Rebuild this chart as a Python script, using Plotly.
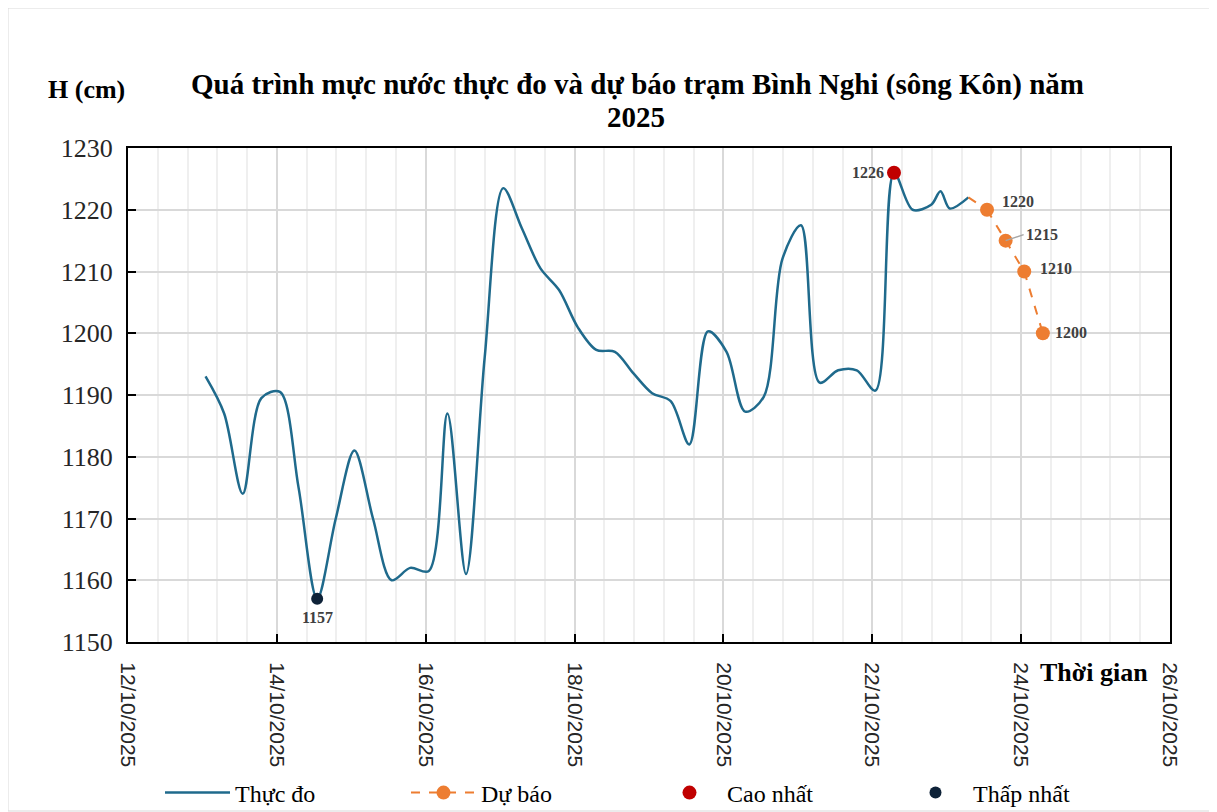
import plotly.graph_objects as go

# ---- data ----
obs_times = [
    "2025-10-13 01:00", "2025-10-13 07:00", "2025-10-13 13:00", "2025-10-13 19:00",
    "2025-10-14 01:00", "2025-10-14 07:00", "2025-10-14 13:00", "2025-10-14 19:00",
    "2025-10-15 01:00", "2025-10-15 07:00", "2025-10-15 13:00", "2025-10-15 19:00",
    "2025-10-16 01:00", "2025-10-16 07:00", "2025-10-16 13:00", "2025-10-16 19:00",
    "2025-10-17 01:00", "2025-10-17 07:00", "2025-10-17 13:00", "2025-10-17 19:00",
    "2025-10-18 01:00", "2025-10-18 07:00", "2025-10-18 13:00", "2025-10-18 19:00",
    "2025-10-19 01:00", "2025-10-19 07:00", "2025-10-19 13:00", "2025-10-19 19:00",
    "2025-10-20 01:00", "2025-10-20 07:00", "2025-10-20 13:00", "2025-10-20 19:00",
    "2025-10-21 01:00", "2025-10-21 07:00", "2025-10-21 13:00", "2025-10-21 19:00",
    "2025-10-22 01:00", "2025-10-22 07:00", "2025-10-22 13:00", "2025-10-22 19:00",
    "2025-10-22 22:00", "2025-10-23 01:00", "2025-10-23 07:00",
]
obs_values = [
    1193, 1187, 1174, 1189.5,
    1190.5, 1175, 1157, 1170,
    1181, 1170, 1160, 1162,
    1161.5, 1187, 1161, 1196,
    1223.5, 1217, 1210.5, 1207,
    1201, 1197.3, 1197, 1193.5,
    1190.3, 1189, 1182, 1200.3,
    1197, 1187.3, 1189.7, 1212,
    1217.5, 1192, 1194, 1194,
    1190.7, 1226, 1220, 1220.8,
    1223, 1220.2, 1222,
]
fc_times = ["2025-10-23 07:00", "2025-10-23 13:00", "2025-10-23 19:00",
            "2025-10-24 01:00", "2025-10-24 07:00"]
fc_values = [1222, 1220, 1215, 1210, 1200]

max_time, max_value = "2025-10-22 07:00", 1226
min_time, min_value = "2025-10-14 13:00", 1157

title_line1 = "Quá trình mực nước thực đo và dự báo trạm Bình Nghi (sông Kôn) năm"
title_line2 = "2025"
y_title = "H (cm)"
x_title = "Thời gian"

SERIF = "Liberation Serif"
SANS = "Liberation Sans"
C_OBS = "#1F6A8C"
C_FC = "#ED7D31"
C_MAX = "#C00000"
C_MIN = "#0E2238"
C_LBL = "#404040"

# plot area in page pixels (figure sits at page offset 8,8)
PX0, PX1, PY0, PY1 = 128, 1170, 148, 642
PW, PH = PX1 - PX0, PY1 - PY0


def px(x):
    return (x - PX0) / PW


def py(y):
    return (PY1 - y) / PH


fig = go.Figure()

fig.add_trace(go.Scatter(
    x=obs_times, y=obs_values, mode="lines", name="Thực đo",
    line=dict(color=C_OBS, width=2.5, shape="spline", smoothing=0.9),
))
fig.add_trace(go.Scatter(
    x=fc_times[:2], y=fc_values[:2], mode="lines", showlegend=False,
    line=dict(color=C_FC, width=2, dash="dash"), hoverinfo="skip",
))
fig.add_trace(go.Scatter(
    x=fc_times[1:], y=fc_values[1:], mode="lines+markers", name="Dự báo",
    line=dict(color=C_FC, width=2, dash="dash"),
    marker=dict(color=C_FC, size=14),
))
fig.add_trace(go.Scatter(
    x=[max_time], y=[max_value], mode="markers", name="Cao nhất",
    marker=dict(color=C_MAX, size=14),
))
fig.add_trace(go.Scatter(
    x=[min_time], y=[min_value], mode="markers", name="Thấp nhất",
    marker=dict(color=C_MIN, size=12),
))

lbl_font = dict(family=SERIF, size=16, color=C_LBL)
fig.add_annotation(x=max_time, y=max_value, text=f"<b>{max_value}</b>", showarrow=False,
                   xanchor="right", yanchor="middle", xshift=-8, font=lbl_font)
fig.add_annotation(x=min_time, y=min_value, text=f"<b>{min_value}</b>", showarrow=False,
                   xanchor="center", yanchor="middle", yshift=-19, font=lbl_font)
fig.add_annotation(x=fc_times[1], y=fc_values[1], text=f"<b>{fc_values[1]}</b>", showarrow=False,
                   xanchor="left", yanchor="middle", xshift=13, yshift=8, font=lbl_font)
fig.add_annotation(x=fc_times[2], y=fc_values[2], text=f"<b>{fc_values[2]}</b>", showarrow=True,
                   arrowhead=0, arrowwidth=1.5, arrowcolor="#A6A6A6", standoff=0,
                   ax=18, ay=-6, xanchor="left", yanchor="middle", font=lbl_font)
fig.add_annotation(x=fc_times[3], y=fc_values[3], text=f"<b>{fc_values[3]}</b>", showarrow=False,
                   xanchor="left", yanchor="middle", xshift=14, yshift=3, font=lbl_font)
fig.add_annotation(x=fc_times[4], y=fc_values[4], text=f"<b>{fc_values[4]}</b>", showarrow=False,
                   xanchor="left", yanchor="middle", xshift=10, yshift=1, font=lbl_font)

title_font = dict(family=SERIF, size=29, color="#000000")
fig.add_annotation(xref="paper", yref="paper", x=px(637.5), y=py(84),
                   text=f"<b>{title_line1}</b>", showarrow=False, xanchor="center", yanchor="middle",
                   font=title_font)
fig.add_annotation(xref="paper", yref="paper", x=px(636), y=py(117),
                   text=f"<b>{title_line2}</b>", showarrow=False, xanchor="center", yanchor="middle",
                   font=title_font)
fig.add_annotation(xref="paper", yref="paper", x=px(86.5), y=py(90),
                   text=f"<b>{y_title}</b>", showarrow=False, xanchor="center", yanchor="middle",
                   font=dict(family=SERIF, size=26, color="#000000"))
fig.add_annotation(xref="paper", yref="paper", x=px(1094), y=py(672),
                   text=f"<b>{x_title}</b>", showarrow=False, xanchor="center", yanchor="middle",
                   font=dict(family=SERIF, size=26, color="#000000"))

fig.add_shape(type="rect", xref="paper", yref="paper",
              x0=px(8), x1=px(1210), y0=py(811), y1=py(8),
              line=dict(color="#D9D9D9", width=1), layer="below")

fig.update_xaxes(
    type="date",
    range=["2025-10-12", "2025-10-26"],
    dtick=2 * 86400000, tick0="2025-10-12",
    tickformat="%d/%m/%Y", tickangle=90,
    tickfont=dict(family=SANS, size=21, color="#262626"),
    ticklabelstandoff=14,
    ticks="inside", ticklen=8, tickcolor="#000000", tickwidth=1.5,
    showgrid=True, gridcolor="#D9D9D9", gridwidth=1.5,
    minor=dict(dtick=0.4 * 86400000, tick0="2025-10-12", showgrid=True,
               gridcolor="#EFEFEF", gridwidth=1.5),
    showline=True, linecolor="#000000", linewidth=2, mirror=True,
    zeroline=False, automargin=False,
)
fig.update_yaxes(
    range=[1150, 1230], dtick=10,
    tickfont=dict(family=SERIF, size=26, color="#262626"),
    ticklabelstandoff=8,
    ticks="inside", ticklen=8, tickcolor="#000000", tickwidth=1.5,
    showgrid=True, gridcolor="#D9D9D9", gridwidth=1.5,
    showline=True, linecolor="#000000", linewidth=2, mirror=True,
    zeroline=False, automargin=False,
)

fig.update_layout(
    width=1209, height=804,
    margin=dict(l=PX0 - 8, r=1217 - PX1, t=PY0 - 8, b=812 - PY1, autoexpand=False),
    paper_bgcolor="#FFFFFF", plot_bgcolor="#FFFFFF",
    font=dict(family=SERIF, size=24, color="#000000"),
    showlegend=True,
    legend=dict(orientation="h", x=px(160), y=py(793),
                xanchor="left", yanchor="middle",
                itemwidth=65, entrywidth=166, entrywidthmode="pixels",
                font=dict(family=SERIF, size=24, color="#000000"),
                bgcolor="rgba(0,0,0,0)"),
)

fig.write_html("out.html")
